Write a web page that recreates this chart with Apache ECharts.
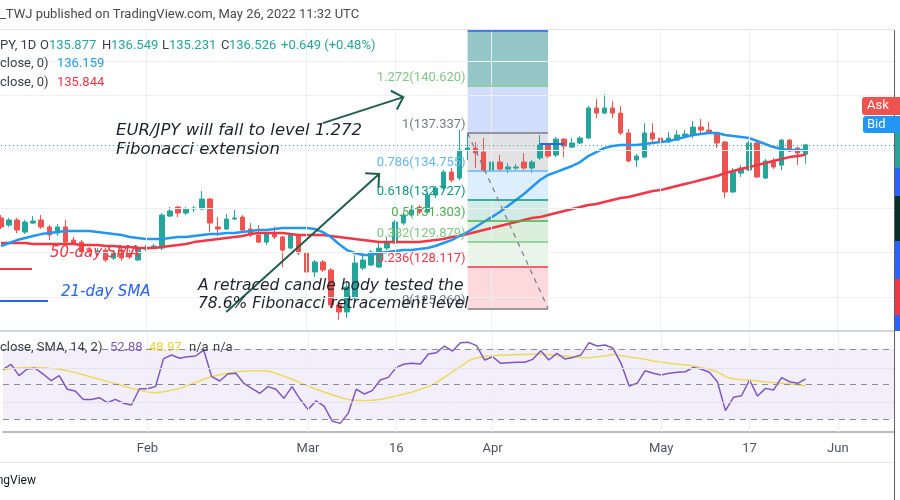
<!DOCTYPE html>
<html><head><meta charset="utf-8">
<script src="https://cdn.jsdelivr.net/npm/echarts@6/dist/echarts.min.js"></script>
<style>html,body{margin:0;padding:0;background:#fff}#c{width:900px;height:500px}</style>
</head><body><div id="c"></div>
<script>
// ---- data (daily bars, index 0 = Jan 6 2022 ... index 100 = May 26 2022) ----
const opens = [131.49,131.00,131.35,130.52,131.14,131.35,130.87,130.45,130.87,129.97,
129.83,129.28,129.08,129.28,128.73,129.28,129.08,128.60,129.35,129.42,
129.42,131.62,132.24,131.83,132.11,132.11,132.79,130.87,130.73,131.42,
131.55,130.73,130.32,129.83,130.45,130.18,129.42,130.25,129.08,127.77,
128.46,127.91,125.50,125.02,125.98,128.04,128.25,128.11,129.42,129.77,
131.14,131.69,132.24,131.90,133.07,133.55,134.65,134.24,136.17,136.30,
136.03,134.79,135.34,134.86,134.93,135.34,134.93,135.62,136.51,135.82,
136.92,136.37,136.65,136.99,139.06,138.71,139.06,138.71,137.34,135.48,
135.68,137.34,136.99,136.72,136.85,137.13,137.20,137.75,137.54,137.34,
136.72,133.28,134.58,134.79,136.65,134.24,135.34,135.13,136.85,136.30,
135.877];
const closes = [130.87,131.35,130.66,131.21,131.28,130.87,130.32,130.87,129.83,129.77,
129.15,129.15,129.22,128.60,129.08,128.73,128.80,129.42,129.42,129.56,
131.69,131.97,131.83,132.11,132.17,132.79,131.14,130.73,131.42,131.49,
130.66,130.32,129.83,130.45,130.18,129.28,130.32,129.08,127.77,128.46,
127.91,125.50,125.02,126.74,128.39,128.60,129.15,129.42,129.77,131.21,
131.69,132.04,131.90,133.07,133.55,134.65,134.10,136.17,136.30,135.96,
134.79,135.34,134.86,135.00,135.00,134.93,135.34,136.51,135.75,136.92,
136.44,136.65,136.99,139.06,138.71,139.06,138.71,137.34,135.41,135.75,
137.34,136.92,136.72,136.99,137.20,137.27,137.75,137.54,137.34,136.65,
133.28,134.65,134.93,136.65,134.31,135.41,135.00,136.85,136.10,135.96,
136.526];
const lows = [130.73,130.87,130.45,130.38,131.07,130.73,129.97,130.25,129.70,129.63,
129.01,128.94,128.87,128.46,128.60,128.53,128.66,128.53,129.22,129.35,
129.28,131.55,131.55,131.69,131.90,132.04,130.52,130.25,130.66,131.35,
130.59,130.18,129.77,129.63,130.04,128.11,129.35,128.94,127.56,127.43,
127.77,125.29,124.47,124.60,125.84,127.91,128.18,128.04,129.28,129.70,
131.00,131.62,131.76,131.83,132.86,133.41,133.96,134.10,135.48,134.93,
134.65,134.65,134.72,134.58,134.79,134.79,134.58,135.48,135.62,135.68,
135.68,136.30,136.58,136.92,138.37,138.64,138.37,137.20,135.34,135.00,
135.62,136.65,136.51,136.65,136.79,137.06,136.99,137.20,137.27,136.30,
132.86,133.21,134.31,134.72,134.24,134.17,134.86,134.79,136.03,135.13,
135.231];
const highs = [131.69,131.49,131.49,131.35,131.62,131.69,131.00,131.07,131.35,130.18,
129.97,129.49,129.42,129.42,129.28,129.42,129.28,129.56,129.63,129.70,
131.83,132.24,132.31,132.24,132.31,133.35,132.86,131.55,131.76,132.04,
131.69,131.14,131.00,130.52,130.87,130.25,130.45,130.38,129.28,128.60,
128.60,128.04,125.64,127.08,128.94,129.08,129.28,129.77,130.18,131.35,
131.90,132.38,132.38,133.21,133.69,134.79,134.93,137.54,137.34,136.72,
136.99,136.03,135.82,135.27,135.20,135.96,135.48,137.20,136.65,137.06,
136.99,136.99,137.13,139.19,139.68,140.02,139.54,139.19,137.61,135.89,
138.02,138.02,137.13,137.41,137.54,137.54,138.16,138.30,138.09,137.41,
136.79,134.93,135.13,136.79,136.72,135.55,135.62,136.92,136.92,136.37,
136.549];
const sma21 = [129.56,129.77,129.97,130.11,130.25,130.38,130.45,130.52,130.59,130.59,
130.59,130.59,130.52,130.45,130.38,130.32,130.18,130.11,130.04,130.04,
130.04,130.11,130.18,130.18,130.25,130.32,130.38,130.38,130.45,130.45,
130.52,130.59,130.66,130.66,130.73,130.80,130.80,130.80,130.80,130.73,
130.52,130.18,129.70,129.28,129.08,128.94,128.94,129.08,129.15,129.22,
129.28,129.28,129.35,129.42,129.56,129.77,129.97,130.25,130.52,130.87,
131.21,131.55,131.90,132.31,132.73,133.14,133.62,134.10,134.45,134.65,
134.86,135.07,135.34,135.75,136.03,136.30,136.44,136.51,136.51,136.51,
136.58,136.65,136.72,136.79,136.92,137.06,137.20,137.27,137.34,137.34,
137.20,137.13,137.06,136.99,136.79,136.58,136.37,136.24,136.17,136.17,
136.159];
const sma50 = [129.77,129.77,129.77,129.77,129.70,129.70,129.70,129.70,129.70,129.70,
129.63,129.63,129.63,129.56,129.56,129.49,129.49,129.42,129.42,129.42,
129.49,129.56,129.63,129.70,129.83,129.90,129.97,130.04,130.11,130.18,
130.25,130.38,130.45,130.45,130.45,130.45,130.38,130.32,130.32,130.32,
130.32,130.25,130.18,130.11,130.04,129.97,129.90,129.83,129.83,129.83,
129.83,129.83,129.83,129.90,129.97,130.04,130.18,130.25,130.38,130.52,
130.66,130.80,130.94,131.07,131.21,131.35,131.49,131.55,131.69,131.83,
131.97,132.11,132.24,132.38,132.45,132.59,132.73,132.86,132.93,133.07,
133.21,133.35,133.41,133.55,133.69,133.83,133.96,134.10,134.24,134.38,
134.58,134.72,134.86,135.00,135.13,135.27,135.41,135.55,135.68,135.75,
135.844];
const rsi = [58.4,61.2,54.8,58.6,59.0,55.7,51.9,54.8,47.0,46.0,
41.2,41.2,42.2,39.3,41.2,39.0,38.0,47.3,47.3,48.5,
64.5,66.6,64.7,65.6,66.0,69.4,54.2,51.7,55.7,56.1,
50.4,47.5,44.7,48.5,47.0,41.8,48.5,41.4,35.5,40.3,
37.4,28.9,27.5,33.2,47.0,44.3,46.2,52.3,53.8,59.5,
61.4,61.8,61.4,67.1,67.9,71.7,68.8,73.6,73.8,71.9,
63.7,65.6,61.8,62.2,62.4,62.4,64.1,69.0,63.7,67.5,
64.3,65.2,66.6,73.6,71.7,72.3,70.4,61.8,48.9,50.4,
57.6,56.1,55.1,56.1,56.7,57.0,59.5,58.4,56.7,51.3,
34.8,42.4,43.3,52.3,43.1,47.5,46.6,53.6,51.3,50.4,
52.88];
const rsiMa = [58.0,58.8,59.3,59.5,59.5,59.3,58.8,58.4,57.6,56.5,
55.3,54.0,52.7,51.5,50.2,48.9,47.5,46.4,45.4,45.0,
45.6,46.4,47.5,49.2,50.9,52.7,54.2,55.3,56.3,56.9,
57.4,57.6,57.6,57.4,56.1,54.4,52.7,50.8,48.9,47.0,
45.4,43.9,42.4,41.2,40.7,40.5,40.7,41.2,42.2,43.3,
44.3,45.4,47.0,48.5,50.8,53.8,57.0,59.9,63.3,64.9,
65.8,66.2,66.6,66.6,66.8,66.8,67.0,67.1,66.8,66.2,
66.0,65.6,65.2,65.0,65.6,66.0,67.0,66.2,65.4,64.9,
64.1,63.1,62.6,61.8,61.4,60.9,60.3,59.5,58.4,56.9,
54.2,52.9,52.5,52.3,51.7,51.1,50.8,50.4,50.0,49.6,
48.97];
const tickIdx = [18,38,49,61,82,93,104];
const tickLabels = ['Feb','Mar','16','Apr','May','17','Jun'];
const gridPrices = [142.29,139.95,136.17,132.17,129.15,126.05];
const rsiLevels = [70,50,30];
const rsiGrid = [59.1,39.7];
const fibRatios = ['0','0.236','0.382','0.5','0.618','0.786','1','1.272','1.618'];
const fibPrices = [125.269,128.117,129.879,131.303,132.727,134.755,137.337,140.620,144.795];
const fibStart = 58, fibEnd = 68;
const lastClose = 136.526;
const markerLevel = 136.58, markerFrom = 67, markerTo = 70;

// ---- styles ----
const fibColors = ['#787b86','#f23645','#81c784','#4caf50','#089981','#64b5f6','#787b86','#81c784','#2962ff'];
const bandColors = ['#fcd9db','#e9f5e9','#dcefdc','#d2ebe6','#ddeefc','#e2e2e5','#d2ddfb','#94c6c5'];
const GL = '#eceff4';
const X_MIN = 0, X_MAX = 111;
const Y_MIN = 123.71, Y_MAX = 144.43;
const R_MIN = 22.57, R_MAX = 80.29;
const UI = 'Roboto, "Noto Sans", sans-serif';

const chart = echarts.init(document.getElementById('c'));
const idx = opens.map((_, i) => i);
const bands = [];
for (let k = 0; k < fibPrices.length - 1; k++) {
  bands.push([{xAxis: fibStart, yAxis: fibPrices[k], itemStyle: {color: bandColors[k]}},
              {xAxis: fibEnd, yAxis: Math.min(fibPrices[k+1], Y_MAX)}]);
}
const fibLines = fibPrices.map((p, k) => [
  {coord: [fibStart, Math.min(p, Y_MAX - 0.03)], lineStyle: {color: fibColors[k], width: 1.5, type: 'solid'}},
  {coord: [fibEnd, Math.min(p, Y_MAX - 0.03)]}
]);
fibLines.push([{coord: [fibStart, fibPrices[6]], lineStyle: {color: '#787b86', width: 1.2, type: [5, 5]}},
               {coord: [fibEnd, fibPrices[0]]}]);
fibLines.push([{coord: [markerFrom, markerLevel], lineStyle: {color: '#2962ff', width: 2, type: 'solid'}},
               {coord: [markerTo, markerLevel]}]);

const option = {
  animation: false,
  grid: [
    {left: 1, right: 6, top: 30, height: 301},
    {left: 1, right: 6, top: 331, height: 101}
  ],
  xAxis: [
    {type: 'value', gridIndex: 0, min: X_MIN, max: X_MAX, show: false, splitLine: {show: false}},
    {type: 'value', gridIndex: 1, min: X_MIN, max: X_MAX, interval: 1,
     axisLine: {show: true, lineStyle: {color: '#a3a6af', width: 1.5}},
     axisTick: {show: false}, splitLine: {show: false},
     axisLabel: {show: true, color: '#50535e', fontSize: 13, fontFamily: UI, margin: 10,
       showMinLabel: true, showMaxLabel: true,
       formatter: v => { const r = Math.round(v); if (Math.abs(v - r) > 1e-6) return ''; const k = tickIdx.indexOf(r); return k >= 0 ? tickLabels[k] : ''; }}}
  ],
  yAxis: [
    {type: 'value', gridIndex: 0, min: Y_MIN, max: Y_MAX, show: false, splitLine: {show: false}},
    {type: 'value', gridIndex: 1, min: R_MIN, max: R_MAX, show: false, splitLine: {show: false}}
  ],
  series: [
    {type: 'line', xAxisIndex: 0, yAxisIndex: 0, data: [], silent: true, z: 0,
     markLine: {silent: true, symbol: 'none', label: {show: false}, animation: false,
       lineStyle: {color: GL, width: 1, type: 'solid'},
       data: gridPrices.map(p => ({yAxis: p})).concat(tickIdx.map(t => ({xAxis: t})))}},
    {type: 'line', xAxisIndex: 0, yAxisIndex: 0, data: [], silent: true, z: 1,
     markArea: {silent: true, data: bands}},
    {type: 'candlestick', xAxisIndex: 0, yAxisIndex: 0, z: 3, barWidth: 5,
     data: idx.map(i => [i, opens[i], closes[i], lows[i], highs[i]]),
     itemStyle: {color: '#26a69a', color0: '#ef5350', borderColor: '#26a69a', borderColor0: '#ef5350', borderWidth: 1},
     markLine: {silent: true, symbol: 'none', label: {show: false},
       lineStyle: {color: '#26a69a', type: [1, 3], width: 1}, data: [{yAxis: lastClose}]}},
    {type: 'line', xAxisIndex: 0, yAxisIndex: 0, z: 4, data: idx.map(i => [i, sma50[i]]),
     symbol: 'none', lineStyle: {color: '#f23645', width: 2.5}},
    {type: 'line', xAxisIndex: 0, yAxisIndex: 0, z: 4, data: idx.map(i => [i, sma21[i]]),
     symbol: 'none', lineStyle: {color: '#2196f3', width: 2.5}},
    {type: 'line', xAxisIndex: 0, yAxisIndex: 0, data: [], silent: true, z: 5,
     markLine: {silent: true, symbol: 'none', label: {show: false}, data: fibLines}},
    {type: 'line', xAxisIndex: 1, yAxisIndex: 1, data: [], silent: true, z: 0,
     markArea: {silent: true, data: [[{yAxis: 30, itemStyle: {color: '#f2effa'}}, {yAxis: 70}]]},
     markLine: {silent: true, symbol: 'none', label: {show: false},
       data: rsiGrid.map(v => ({yAxis: v, lineStyle: {color: '#e4e2ee', width: 1, type: 'solid'}}))
         .concat(tickIdx.map(t => ({xAxis: t, lineStyle: {color: GL, width: 1, type: 'solid'}})))
         .concat(rsiLevels.map(v => ({yAxis: v, lineStyle: {color: '#8a8d97', width: 1, type: [6, 5]}})))}},
    {type: 'line', xAxisIndex: 1, yAxisIndex: 1, z: 3, data: idx.map(i => [i, rsiMa[i]]),
     symbol: 'none', lineStyle: {color: '#efd95c', width: 1.5}},
    {type: 'line', xAxisIndex: 1, yAxisIndex: 1, z: 4, data: idx.map(i => [i, rsi[i]]),
     symbol: 'none', lineStyle: {color: '#7e57c2', width: 1.5}}
  ]
};
chart.setOption(option);

// ---- overlay: texts, drawings ----
const px = (x, y) => chart.convertToPixel({xAxisIndex: 0, yAxisIndex: 0}, [x, y]);
function T(x, y, s, fill, font, align) {
  return {type: 'text', x: x, y: y, silent: true, z: 100,
    style: {text: s, fill: fill, font: font || ('13px ' + UI), align: align || 'left', verticalAlign: 'middle'}};
}
function L(x1, y1, x2, y2, stroke, w) {
  return {type: 'line', silent: true, z: 90, shape: {x1, y1, x2, y2}, style: {stroke, lineWidth: w || 1}};
}
function R(x, y, w, h, fill, r) {
  return {type: 'rect', silent: true, z: 95, shape: {x, y, width: w, height: h, r: r || 0}, style: {fill}};
}
function arrow(a, b, color) {
  const p1 = px(a[0], a[1]), p2 = px(b[0], b[1]);
  const dx = p2[0] - p1[0], dy = p2[1] - p1[1], len = Math.hypot(dx, dy);
  const rx = -dx / len, ry = -dy / len, c = Math.cos(Math.PI / 4), s = Math.sin(Math.PI / 4), hl = 14;
  const w1 = [p2[0] + hl * (rx * c - ry * s), p2[1] + hl * (rx * s + ry * c)];
  const w2 = [p2[0] + hl * (rx * c + ry * s), p2[1] + hl * (-rx * s + ry * c)];
  return [
    {type: 'line', silent: true, z: 92, shape: {x1: p1[0], y1: p1[1], x2: p2[0], y2: p2[1]}, style: {stroke: color, lineWidth: 2}},
    {type: 'polyline', silent: true, z: 92, shape: {points: [w1, p2, w2]}, style: {stroke: color, lineWidth: 2, fill: null}}
  ];
}
const G = [];
// frame lines
G.push(L(0, 29.5, 894, 29.5, '#e0e3eb', 1));
G.push(L(0, 331, 894, 331, '#c5c8d0', 1.5));
G.push(L(0, 462.5, 894, 462.5, '#e6e8ee', 1));
G.push(L(894.5, 30, 894.5, 500, '#5d606b', 1));
// price-axis slivers
[[133, 168, '#26a69a'], [168, 196, '#2962ff'], [196, 241, '#0b2e26'], [241, 279, '#2962ff'], [279, 315, '#f23645'], [315, 331, '#2962ff']]
  .forEach(s => G.push(R(895, s[0], 5, s[1] - s[0], s[2])));
G.push(R(862, 97, 38, 18, '#ef5350', [3, 0, 0, 3]));
G.push(T(867, 106, 'Ask', '#ffffff', '13px ' + UI));
G.push(R(863, 116, 37, 17, '#2196f3', [3, 0, 0, 3]));
G.push(T(867, 124.5, 'Bid', '#ffffff', '13px ' + UI));
// header
const DK = '#3b3e48', TEAL = '#26a69a';
G.push(T(0, 15, '_TWJ published on TradingView.com, May 26, 2022 11:32 UTC', '#4a4a4a'));
G.push(T(0, 46, 'PY, 1D', DK));
G.push(T(40, 46, 'O', DK)); G.push(T(49, 46, '135.877', TEAL));
G.push(T(102, 46, 'H', DK)); G.push(T(111, 46, '136.549', TEAL));
G.push(T(162, 46, 'L', DK)); G.push(T(169, 46, '135.231', TEAL));
G.push(T(221, 46, 'C', DK)); G.push(T(229, 46, '136.526', TEAL));
G.push(T(281, 46, '+0.649 (+0.48%)', TEAL));
G.push(T(0, 64, 'close, 0)', DK)); G.push(T(57, 64, '136.159', '#2196f3'));
G.push(T(0, 83, 'close, 0)', DK)); G.push(T(57, 83, '135.844', '#f23645'));
// RSI legend
G.push(T(0, 348, 'close, SMA, 14, 2)', DK));
G.push(T(110, 348, '52.88', '#7e57c2'));
G.push(T(149, 348, '48.97', '#ecd23a'));
G.push(T(189, 348, 'n/a', DK)); G.push(T(213, 348, 'n/a', DK));
G.push(T(36, 481, 'TradingView', '#131722', '12px ' + UI, 'right'));
// fib labels
fibPrices.forEach((p, k) => {
  if (p > Y_MAX) return;
  const q = px(fibStart, p);
  G.push(T(q[0] - 2, q[1] - 8, fibRatios[k] + '(' + p.toFixed(3) + ')', fibColors[k], '13px ' + UI, 'right'));
});
// SMA legend marks
G.push(L(0, 269, 32, 269, '#f23645', 2));
G.push(L(0, 301, 48, 301, '#2962ff', 2));
G.push(T(50, 253, '50-day SMA', '#f23645', 'italic 15px "DejaVu Sans"'));
G.push(T(61, 292, '21-day SMA', '#2962ff', 'italic 15px "DejaVu Sans"'));
// annotations
const AN = '#1e222d';
G.push(T(116, 131, 'EUR/JPY will fall to level 1.272', AN, 'italic 16.5px "DejaVu Sans"'));
G.push(T(116, 150, 'Fibonacci extension', AN, 'italic 16.5px "DejaVu Sans"'));
G.push(T(198, 286, 'A retraced candle body tested the', AN, 'italic 15.5px "DejaVu Sans"'));
G.push(T(198, 304, '78.6% Fibonacci retracement level', AN, 'italic 15.5px "DejaVu Sans"'));
arrow([28, 125.02], [47, 134.52], '#1f5f4c').forEach(e => G.push(e));
arrow([40, 138.02], [50, 139.81], '#1f5f4c').forEach(e => G.push(e));
chart.setOption({graphic: {elements: G}});
</script>
</body></html>
